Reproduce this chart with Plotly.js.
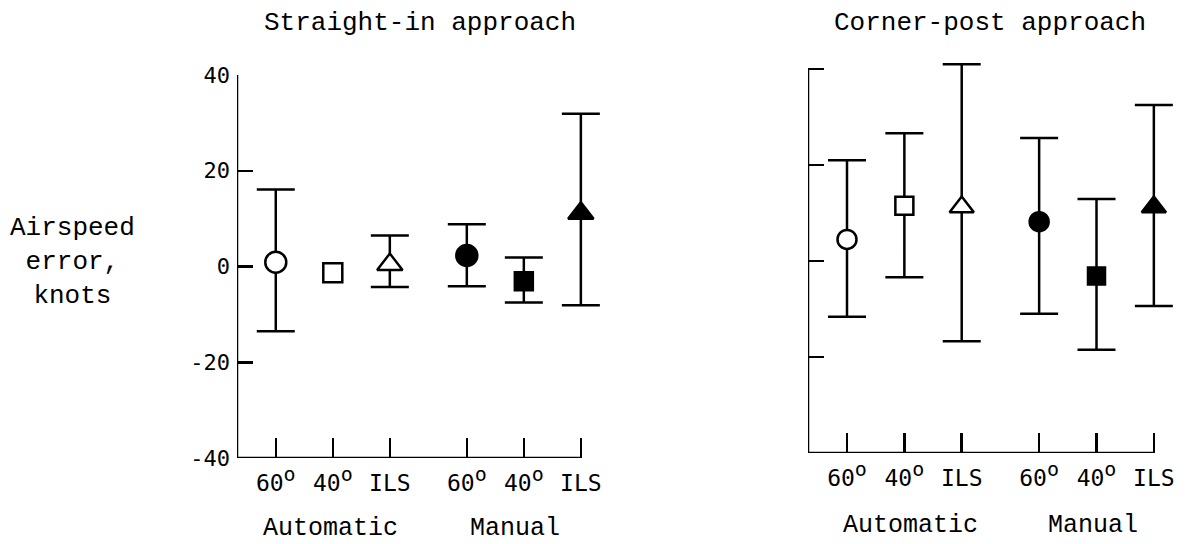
<!DOCTYPE html>
<html>
<head>
<meta charset="utf-8">
<script src="https://cdn.plot.ly/plotly-3.0.1.min.js"></script>
<style>html,body{margin:0;padding:0;background:#fff;}#chart{width:1192px;height:544px;}</style>
</head>
<body>
<div id="chart"></div>
<script>
// ---- data ----
const conditions = ['60 Automatic', '40 Automatic', 'ILS Automatic', '60 Manual', '40 Manual', 'ILS Manual'];
const conditionX = [1, 2, 3, 4.35, 5.35, 6.35];
const tickLabels = ['60<sup><span style="font-size:20px">o</span></sup>', '40<sup><span style="font-size:20px">o</span></sup>', 'ILS',
                    '60<sup><span style="font-size:20px">o</span></sup>', '40<sup><span style="font-size:20px">o</span></sup>', 'ILS'];
const yTicks = [-40, -20, 0, 20, 40];

// Straight-in approach
const straightMean  = [0.9, -1.3, 0.4, 2.3, -3.1, 11.1];
const straightUpper = [16.1, null, 6.5, 8.8, 1.9, 31.9];
const straightLower = [-13.5, null, -4.3, -4.1, -7.5, -8.1];

// Corner-post approach
const cornerMean  = [4.5, 11.5, 11.25, 8.2, -3.1, 11.25];
const cornerUpper = [21.0, 26.6, 41.0, 25.6, 12.9, 32.5];
const cornerLower = [-11.6, -3.4, -16.7, -11.0, -18.5, -9.4];

// ---- styling ----
const W = 1192, H = 544;
const symbols = ['circle', 'square', 'triangle-up', 'circle', 'square', 'triangle-up'];
const fills = ['white', 'white', 'white', 'black', 'black', 'black'];
const monoSerif = 'Liberation Mono, Courier New, monospace';
const monoSans = 'DejaVu Sans Mono, monospace';
const X0 = 0.32, XAXIS_END = 6.37, XR1 = 6.8;   // x range start, visible axis-line end, range end
const LW = 2.5;

function errUp(mean, up) { return mean.map((m, i) => up[i] == null ? NaN : up[i] - m); }
function errDn(mean, lo) { return mean.map((m, i) => lo[i] == null ? NaN : m - lo[i]); }

function makeTrace(mean, up, lo, xa, ya, sizes) {
  return {
    type: 'scatter', mode: 'markers',
    x: conditionX, y: mean, text: conditions,
    xaxis: xa, yaxis: ya, cliponaxis: false, showlegend: false,
    marker: { symbol: symbols, color: fills, size: sizes, opacity: 1,
              line: { color: 'black', width: LW } },
    error_y: { type: 'data', symmetric: false, array: errUp(mean, up), arrayminus: errDn(mean, lo),
               color: 'black', thickness: LW, width: 19 }
  };
}

const traces = [
  makeTrace(straightMean, straightUpper, straightLower, 'x', 'y', [21, 19, 22, 21, 18, 22]),
  makeTrace(cornerMean, cornerUpper, cornerLower, 'x2', 'y2', [19, 18, 21, 19, 17, 21])
];

// pixel geometry -> domains
function xDomain(pxStart, pxAxisEnd) {
  const ppu = (pxAxisEnd - pxStart) / (XAXIS_END - X0);
  return [pxStart / W, (pxStart + (XR1 - X0) * ppu) / W];
}
function yDomain(pxTop40, pxBottom, yTop) {
  const ppu = (pxBottom - pxTop40) / 80;
  const top = pxBottom - (yTop + 40) * ppu;
  return [1 - pxBottom / H, 1 - top / H];
}

function xax(domain, anchor) {
  return {
    domain: domain, range: [X0, XR1], anchor: anchor,
    tickmode: 'array', tickvals: conditionX, ticktext: tickLabels,
    ticks: 'inside', ticklen: 20, tickwidth: LW, tickcolor: 'black',
    showline: false, showgrid: false, zeroline: false, fixedrange: true,
    tickfont: { family: monoSans, size: 23, color: 'black' }, ticklabelstandoff: 9
  };
}
function yax(domain, yTop, anchor, labels) {
  return {
    domain: domain, range: [-40, yTop], anchor: anchor,
    tickmode: 'array', tickvals: yTicks, ticktext: yTicks.map(String), showticklabels: labels,
    ticks: 'inside', ticklen: 16, tickwidth: LW, tickcolor: 'black',
    showline: false, showgrid: false, zeroline: false, fixedrange: true,
    tickfont: { family: monoSans, size: 22, color: 'black' }, ticklabelstandoff: 6
  };
}
function axisLines(xr, yr) {
  const line = { color: 'black', width: LW };
  return [
    { type: 'line', xref: xr, yref: yr, x0: X0, x1: X0, y0: -40, y1: 40, line: line, layer: 'above' },
    { type: 'line', xref: xr, yref: yr, x0: X0, x1: XAXIS_END, y0: -40, y1: -40, line: line, layer: 'above' }
  ];
}

function ann(text, x, y, size, extra) {
  return Object.assign({ text: text, x: x / W, y: 1 - y / H, xref: 'paper', yref: 'paper',
    xanchor: 'center', yanchor: 'middle', showarrow: false,
    font: { family: monoSerif, size: size, color: 'black' } }, extra || {});
}

const layout = {
  width: W, height: H,
  margin: { l: 0, r: 0, t: 0, b: 0 },
  paper_bgcolor: 'white', plot_bgcolor: 'rgba(0,0,0,0)',
  xaxis: xax(xDomain(237, 582), 'y'),
  yaxis: yax(yDomain(75, 458, 40), 40, 'x', true),
  xaxis2: xax(xDomain(808, 1155), 'y2'),
  yaxis2: yax(yDomain(69, 453, 45), 45, 'x2', false),
  shapes: axisLines('x', 'y').concat(axisLines('x2', 'y2')),
  annotations: [
    ann('Straight-in approach', 420, 23, 26),
    ann('Corner-post approach', 990, 23, 26),
    ann('Airspeed<br>error,<br>knots', 72, 262, 26, { align: 'center' }),
    ann('Automatic', 331, 528, 25),
    ann('Manual', 515, 528, 25),
    ann('Automatic', 910, 525, 25),
    ann('Manual', 1093, 525, 25)
  ]
};

Plotly.newPlot('chart', traces, layout, { staticPlot: true, displayModeBar: false });
</script>
</body>
</html>
